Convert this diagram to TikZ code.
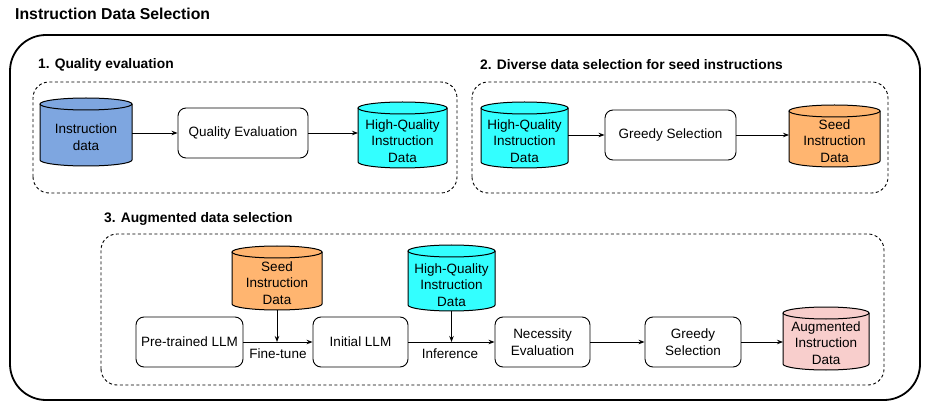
\documentclass[tikz,border=0pt]{standalone}
\usepackage{fontspec}
\setmainfont{Liberation Sans}
\usetikzlibrary{arrows.meta}
\definecolor{cblue}{HTML}{7EA6E0}
\definecolor{ccyan}{HTML}{33FFFF}
\definecolor{corange}{HTML}{FFB570}
\definecolor{cpink}{HTML}{F8CECC}
% \dbcyl{name}{cx}{ytop}{ybot}{rx}{textY}{color}{text}
\newcommand{\dbcyl}[8]{%
  \fill[#7] (#2-#5,#3) -- (#2-#5,#4) arc[start angle=180,end angle=360,x radius=#5,y radius=6]
     -- (#2+#5,#3) arc[start angle=0,end angle=180,x radius=#5,y radius=6] -- cycle;
  \draw[cylline] (#2-#5,#3) -- (#2-#5,#4) arc[start angle=180,end angle=360,x radius=#5,y radius=6]
     -- (#2+#5,#3);
  \draw[cylline] (#2,#3) ellipse[x radius=#5,y radius=6];
  \node[cyltext, minimum width=2*#5, minimum height=#3-#4+12] (#1) at (#2,{(#3+#4)/2}) {};
  \node[font=\bodyfont, align=center] at (#2,#6) {#8};
}
\newcommand{\bodyfont}{\fontsize{13.5}{16.5}\selectfont}
\newcommand{\headfont}{\fontsize{13.8}{16}\selectfont\bfseries}
\begin{document}
\begin{tikzpicture}[x=1pt,y=1pt,
  cylline/.style={line width=1pt, draw=black},
  cyltext/.style={inner sep=0pt, outer sep=0pt, draw=none},
  procbox/.style={draw, line width=0.9pt, rounded corners=8pt, fill=white, align=center, font=\bodyfont, inner sep=0pt},
  dashbox/.style={draw, line width=0.9pt, dash pattern=on 3pt off 2.5pt, rounded corners=16pt},
  arr/.style={-{Stealth[length=6pt,width=4.5pt]}, line width=0.9pt},
  heading/.style={anchor=west, font=\headfont, inner sep=0pt},
  lbl/.style={font=\bodyfont, inner sep=0pt}]
\useasboundingbox (0,0) rectangle (928,407);

% title
\node[anchor=west, font=\fontsize{15.8}{18}\selectfont\bfseries, inner sep=0pt] (title) at (15,393) {Instruction Data Selection};

% outer frame
\draw[line width=1.8pt, rounded corners=36pt] (10,7) rectangle (920,372);

% section frames
\draw[dashbox] (33,214) rectangle (457,325);
\draw[dashbox] (472,214) rectangle (888,325);
\draw[dashbox] (101,22) rectangle (884,173);

% headings
\node[heading] (h1) at (38,342) {1. Quality evaluation};
\node[heading] (h2) at (480,342) {2. Diverse data selection for seed instructions};
\node[heading] (h3) at (104,188) {3. Augmented data selection};

% section 1
\dbcyl{idata}{86}{303}{247}{46}{270}{cblue}{Instruction\\data}
\node[procbox, minimum width=130pt, minimum height=50pt] (qe) at (243,274) {Quality Evaluation};
\dbcyl{hq1}{402.5}{299}{245}{44.5}{266}{ccyan}{High-Quality\\Instruction\\Data}
\draw[arr] (idata.east |- qe.west) -- (qe.west);
\draw[arr] (qe.east) -- (qe.east -| hq1.west);

% section 2
\dbcyl{hq2}{524.5}{299}{245}{43.5}{266}{ccyan}{High-Quality\\Instruction\\Data}
\node[procbox, minimum width=131pt, minimum height=50pt] (gs1) at (670.5,272) {Greedy Selection};
\dbcyl{seed1}{834.5}{296}{246}{45.5}{266}{corange}{Seed\\Instruction\\Data}
\draw[arr] (hq2.east |- gs1.west) -- (gs1.west);
\draw[arr] (gs1.east) -- (gs1.east -| seed1.west);

% section 3
\dbcyl{seed2}{277}{155}{103}{45}{124}{corange}{Seed\\Instruction\\Data}
\dbcyl{hq3}{451.5}{156}{102}{43.5}{122}{ccyan}{High-Quality\\Instruction\\Data}
\node[procbox, minimum width=107pt, minimum height=50pt] (ptl) at (189.5,65) {Pre-trained LLM};
\node[procbox, minimum width=95pt, minimum height=50pt] (ill) at (360.5,65) {Initial LLM};
\node[procbox, minimum width=95pt, minimum height=50pt] (ne) at (542.5,65) {Necessity\\Evaluation};
\node[procbox, minimum width=96pt, minimum height=50pt] (gs2) at (693,65) {Greedy\\Selection};
\dbcyl{aug}{826}{94}{43}{43}{64}{cpink}{Augmented\\Instruction\\Data}

\coordinate (ft) at (seed2.south |- ptl.east);
\coordinate (inf) at (hq3.south |- ill.east);
\draw[arr] (ptl.east) -- (ill.west);
\draw[arr] (ill.east) -- (ne.west);
\draw[arr] (ne.east) -- (gs2.west);
\draw[arr] (gs2.east) -- (gs2.east -| aug.west);
\draw[arr] (seed2.south) -- (ft);
\draw[arr] (hq3.south) -- (inf);
\node[lbl] (ftl) at (278,53) {Fine-tune};
\node[lbl] (infl) at (450,53) {Inference};
\end{tikzpicture}
\end{document}
